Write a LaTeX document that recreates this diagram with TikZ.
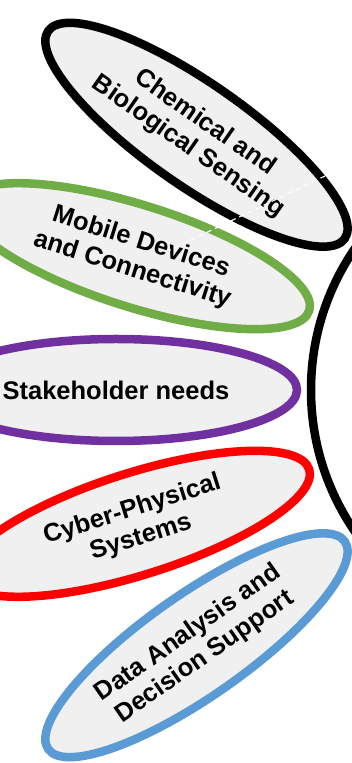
\documentclass[tikz,border=0pt]{standalone}
\usepackage{fontspec}
\setmainfont{Liberation Sans}
\usepackage{tikz}
\usetikzlibrary{positioning}
\definecolor{petalGray}{HTML}{F0F0F0}
\definecolor{petalGreen}{HTML}{70AD47}
\definecolor{petalPurple}{HTML}{7030A0}
\definecolor{petalRed}{HTML}{FF0000}
\definecolor{petalBlue}{HTML}{5B9BD5}
\begin{document}
\begin{tikzpicture}[x=1pt, y=1pt,
  petal/.style={line width=8.5pt, fill=petalGray},
  petaltext/.style={font=\bfseries\fontsize{25.5}{29}\selectfont, align=center, inner sep=0pt}]
\useasboundingbox (0,0) rectangle (351,763);
\coordinate (hub) at (561,373);
\draw[line width=8.5pt] (hub) circle (250);
% petals round the hub, green under black
\foreach \a/\col/\lbl [count=\i] in {
    180/petalPurple/{Stakeholder needs},
    162.5/petalGreen/{Mobile Devices\\and Connectivity},
    145/black/{Chemical and\\Biological Sensing},
    197.5/petalRed/{Cyber-Physical\\Systems},
    215/petalBlue/{Data Analysis and\\Decision Support}}{
  \begin{scope}[shift={(hub)}, rotate=\a]
    \draw[petal, draw=\col] (445,0) ellipse (181 and 51);
    \node[petaltext, rotate=\a-180] (petal\i) at (445,0) {\lbl};
  \end{scope}
}
\coordinate (dashA) at (325,587);
\coordinate (dashB) at (170,513);
\draw[white, line width=1.2pt, dash pattern=on 5pt off 4pt] (dashA) -- (dashB);
\end{tikzpicture}
\end{document}
